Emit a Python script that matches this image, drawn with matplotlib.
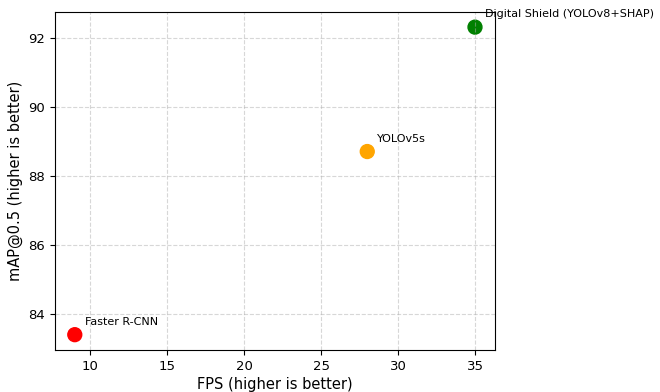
import matplotlib
matplotlib.use('Agg')
import matplotlib.pyplot as plt

models = ['Faster R-CNN', 'YOLOv5s', 'Digital Shield (YOLOv8+SHAP)']
fps = [9, 28, 35]
map50 = [83.4, 88.7, 92.3]
colors = ['red', 'orange', 'green']

fig, ax = plt.subplots(figsize=(6.6, 3.92), dpi=100)
fig.subplots_adjust(left=0.083, right=0.75, top=0.97, bottom=0.107)

ax.scatter(fps, map50, c=colors, s=100)
for name, x, y in zip(models, fps, map50):
    ax.annotate(name, (x, y), xytext=(7, 7), textcoords='offset points', fontsize=8)

ax.set_xlabel('FPS (higher is better)', fontsize=10.5, labelpad=3)
ax.set_ylabel('mAP@0.5 (higher is better)', fontsize=10.5)
ax.tick_params(labelsize=9.5)
ax.grid(True, linestyle='--', alpha=0.5)

fig.savefig('out.png', dpi=100)
